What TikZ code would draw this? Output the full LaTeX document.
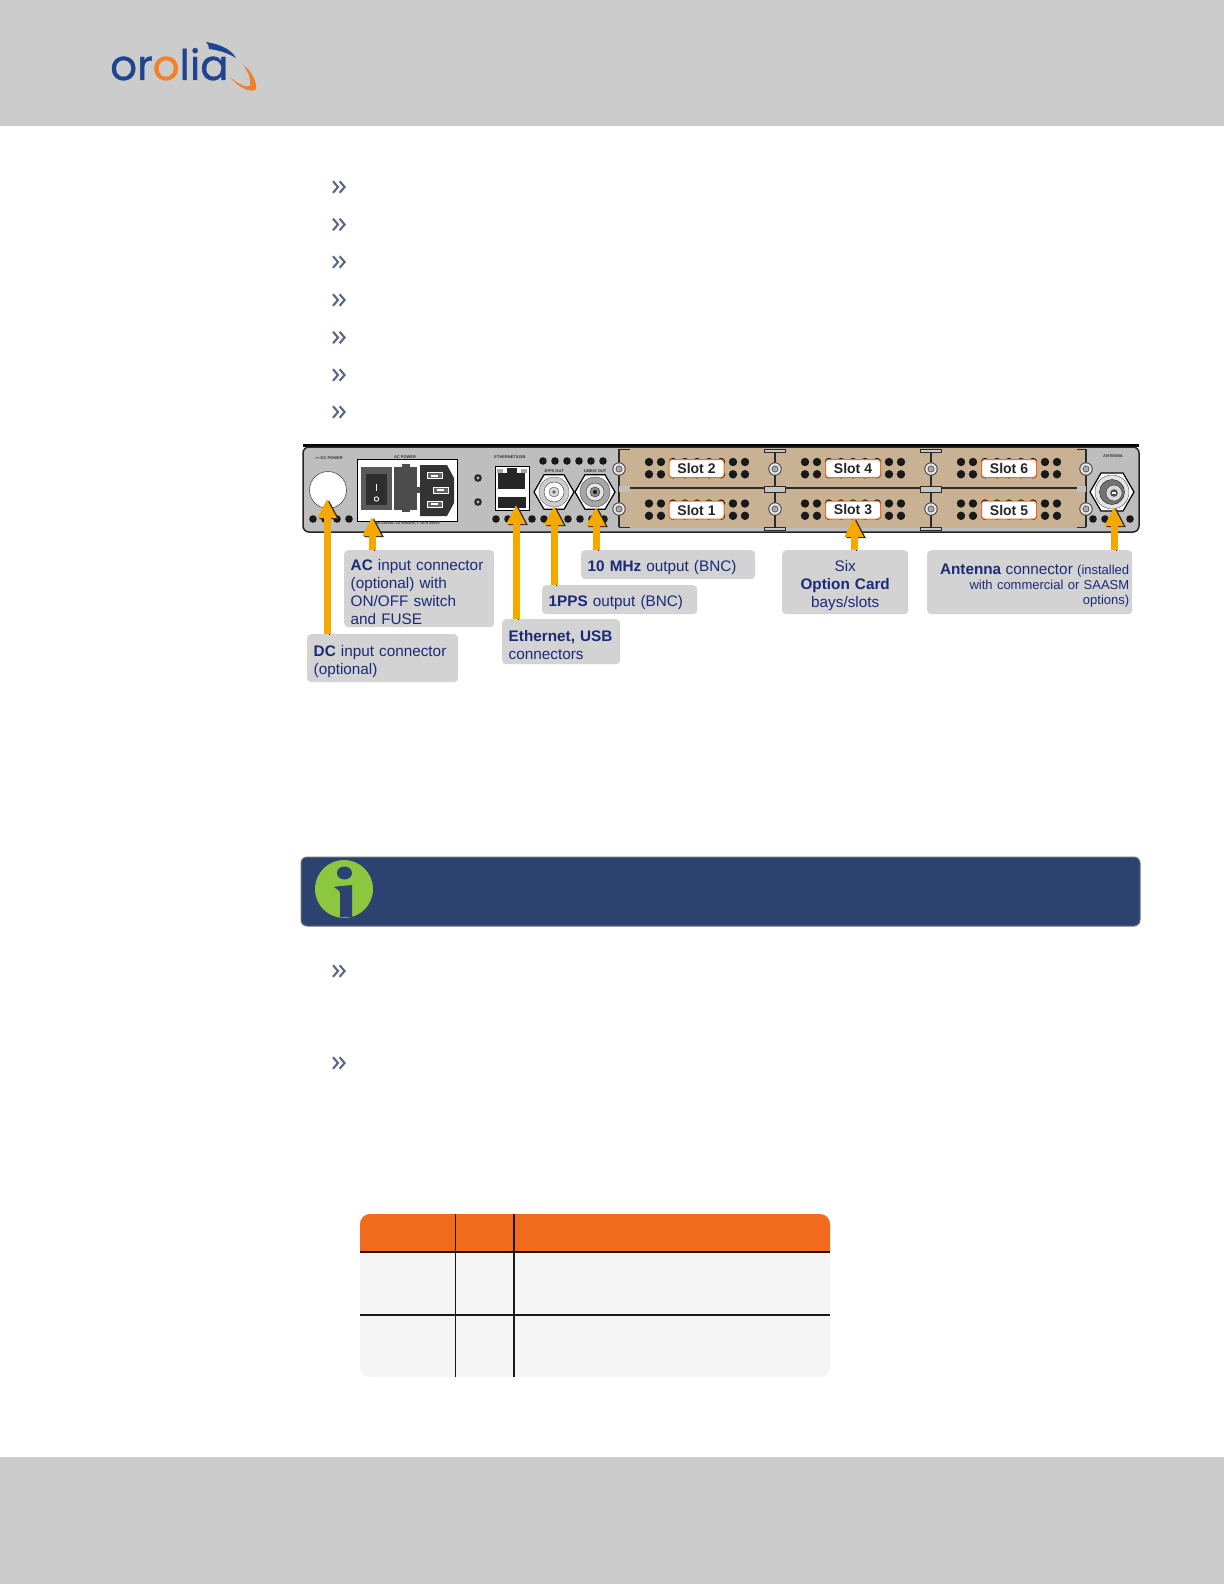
\documentclass[tikz,border=0pt]{standalone}
\usepackage{fontspec}
\setmainfont{Liberation Sans}
\newfontfamily\logofont[FakeBold=0.9]{Poppins}
\usetikzlibrary{arrows.meta}
\definecolor{bandgrey}{HTML}{CCCCCC}
\definecolor{logoblue}{HTML}{1F4590}
\definecolor{logoorange}{HTML}{F0802A}
\definecolor{chevcol}{HTML}{5C6685}
\definecolor{panelgrey}{HTML}{BEBEBE}
\definecolor{cardtan}{HTML}{C9B294}
\definecolor{boxgrey}{HTML}{D3D3D3}
\definecolor{navytext}{HTML}{1B2A78}
\definecolor{arroworange}{HTML}{F5A800}
\definecolor{notenavy}{HTML}{2C4270}
\definecolor{notegreen}{HTML}{8DC63F}
\definecolor{tableorange}{HTML}{F26A1B}
\definecolor{tablefill}{HTML}{F5F5F5}
\definecolor{darkline}{HTML}{2B2B2B}
\tikzset{
  callout/.style={fill=boxgrey,rounded corners=4pt,anchor=north west,inner xsep=6.5pt,inner ysep=0pt,
    text=navytext,font=\fontsize{15.3}{18}\selectfont,align=left},
  yellowarrow/.style={line width=7pt,draw=arroworange,
    -{Triangle[width=18pt,length=19pt]},
    preaction={draw=black!85,transform canvas={xshift=2pt,yshift=-1pt}}},
  slotlabel/.style={fill=white,draw=tableorange,line width=1pt,rounded corners=3pt,minimum width=55pt,minimum height=18pt,
    inner sep=0pt,font=\bfseries\fontsize{14}{16}\selectfont,text=black!85},
  tiny/.style={font=\bfseries\fontsize{4}{4}\selectfont,text=black!80,inner sep=0pt},
  holes/.style={fill=black!90},
}
\newcommand{\upstrut}{\rule{0pt}{17.5pt}}
\newcommand{\chevmark}[2]{%
  \draw[chevcol,line width=2.1pt,miter limit=3] (#1-6,#2-5.8) -- (#1-1,#2) -- (#1-6,#2+5.8);
  \draw[chevcol,line width=2.1pt,miter limit=3] (#1+0.6,#2-5.8) -- (#1+5.6,#2) -- (#1+0.6,#2+5.8);}
\newcommand{\screwmark}[2]{%
  \fill[black!75] (#1,#2) circle (6.7);
  \fill[black!10] (#1,#2) circle (5.7);
  \draw[black!70,line width=.8pt] (#1,#2) circle (3);
  \fill[black!35] (#1,#2) circle (2);}
\newcommand{\holegrid}[2]{%
  \foreach \k in {0,...,8} {
    \fill[holes] (#1+12*\k,#2) circle (4.2);
    \fill[holes] (#1+12*\k,#2+12.3) circle (4.2);}}
\newcommand{\hexnut}[3]{%
  \draw[black,line width=1.2pt,fill=white] (#1+#3,#2) -- (#1+.5*#3,#2+.866*#3) -- (#1-.5*#3,#2+.866*#3)
    -- (#1-#3,#2) -- (#1-.5*#3,#2-.866*#3) -- (#1+.5*#3,#2-.866*#3) -- cycle;}
\begin{document}
\begin{tikzpicture}[x=1pt,y=-1pt]
\useasboundingbox (0,0) rectangle (1224,1584);
\fill[white] (0,0) rectangle (1224,1584);
% bands
\fill[bandgrey] (0,0) rectangle (1224,126);
\fill[bandgrey] (0,1457) rectangle (1224,1584);
% logo
\node[anchor=base west,inner sep=0pt,font=\logofont\fontsize{42}{42}\selectfont,text=logoblue] (logo) at (110,80)
  {or\textcolor{logoorange}{o}lia};
\fill[logoblue] (206,42) .. controls (220,44) and (232,50) .. (236,58) .. controls (228,53) and (218,50) .. (209,49) .. controls (209,46) and (208,44) .. (206,42) -- cycle;
\fill[logoorange] (230,77) .. controls (238,84) and (246,88) .. (250,86) .. controls (251,78) and (248,71) .. (243,65)
  .. controls (251,70) and (257,81) .. (256,89) .. controls (254,93) and (240,90) .. (230,77) -- cycle;
% bullets
\foreach \yy in {187,224.5,262,300,337.5,375,412,971,1063} {\chevmark{339}{\yy}}
% chassis
\draw[black,line width=3pt] (303,445.5) -- (1139,445.5);
\draw[black!85,line width=1.5pt,fill=panelgrey,rounded corners=6pt] (303,447) -- (1139,447) -- (1139,532) -- (303,532) -- cycle;
% cards
\fill[cardtan] (618,448) rectangle (1086,528);
\draw[darkline,line width=1.2pt] (618,488) -- (1086,488);
\foreach \xx in {619,775,931,1086} {\draw[darkline,line width=1.2pt] (\xx,449) -- (\xx,527);}
\foreach \xx in {775,931} {
  \draw[darkline,line width=.5pt,fill=black!22] (\xx-10.5,449) rectangle (\xx+10.5,452);
  \draw[darkline,line width=.5pt,fill=black!22] (\xx-10.5,486) rectangle (\xx+10.5,492);
  \draw[darkline,line width=.5pt,fill=black!22] (\xx-10.5,527) rectangle (\xx+10.5,530);}
\fill[panelgrey] (619,486) rectangle (630,492);
\fill[panelgrey] (1077,486) rectangle (1086,492);
\draw[darkline,line width=1pt] (619,449.5) -- (630,449.5) (619,527) -- (630,527) (1077,449.5) -- (1086,449.5) (1077,527) -- (1086,527);
\holegrid{649}{462}
\holegrid{805}{462}
\holegrid{961}{462}
\holegrid{649}{503.5}
\holegrid{805}{503.5}
\holegrid{961}{503.5}
\foreach \xx in {619,775,931,1086} {\screwmark{\xx}{469}\screwmark{\xx}{509}}
\node[slotlabel] (slot2) at (696.5,468.5) {Slot 2};
\node[slotlabel] (slot1) at (696.5,510) {Slot 1};
\node[slotlabel] (slot4) at (853,468.5) {Slot 4};
\node[slotlabel] (slot3) at (853,510) {Slot 3};
\node[slotlabel] (slot6) at (1009,468.5) {Slot 6};
\node[slotlabel] (slot5) at (1009,510) {Slot 5};
% panel holes
\foreach \xx in {313,325,337,349} {\fill[holes] (\xx,519) circle (3.8);}
\foreach \xx in {496,508,520,532,544,556,568,580,592,604} {\fill[holes] (\xx,519) circle (3.8);}
\foreach \xx in {543,555,567,579,591,603} {\fill[holes] (\xx,461) circle (3.8);}
\foreach \xx in {1093,1105,1117,1130} {\fill[holes] (\xx,519) circle (3.8);}
% DC
\node[tiny] (dcpow) at (329,458) {▪▪▪ DC POWER};
\fill[white] (328,490) circle (18.5);
\draw[black!70,line width=.6pt] (328,490) circle (18.5);
% AC
\draw[black,line width=1pt,fill=white] (357,459) rectangle (457,521);
\node[tiny] (acpow) at (405,457) {AC POWER};
\node[tiny,font=\bfseries\fontsize{3.6}{4}\selectfont] (acrate) at (407,523.5) {100-240VAC 1A 50/60Hz, F 1A H 250V3};
\fill[black!65] (361,467) rectangle (392,510);
\fill[black!82] (366,474) rectangle (387,505);
\draw[white,line width=1.2pt] (376.5,484) -- (376.5,491);
\draw[white,line width=.9pt] (376.5,499) circle (2.2);
\fill[black!70] (394,467) rectangle (417,510);
\fill[black!70] (402,464) rectangle (410,512);
\fill[black!70] (417,487) rectangle (420,493);
\fill[black!80] (420,465) -- (447,465) -- (454,478) -- (454,503) -- (447,516) -- (420,516) -- cycle;
\foreach \yy/\xa in {475.5/427,490/433,504/427} {
  \draw[white,line width=.5pt,fill=black!60] (\xa,\yy-3) rectangle (\xa+15,\yy+3);
  \fill[white] (\xa+4,\yy-1) rectangle (\xa+11,\yy+1);}
% LEDs
\foreach \yy in {478,502} {\fill[black!85] (478,\yy) circle (3.8); \fill[black!25] (478,\yy) circle (1.6);}
% Ethernet
\node[tiny] (ethlbl) at (510,457) {ETHERNET/USB};
\draw[black,line width=1pt,fill=white] (495,466) rectangle (529,510);
\fill[black!85] (498,473) rectangle (525,489);
\fill[black!85] (507,468) rectangle (517,473);
\fill[black!35] (497,468.5) rectangle (503,472.5);
\fill[black!35] (521,468.5) rectangle (527,472.5);
\fill[black!85] (498,497) rectangle (526,508);
% BNC
\node[tiny] (ppslbl) at (554,471) {1PPS OUT};
\node[tiny] (tenlbl) at (595,471) {10MHZ OUT};
\hexnut{554}{492}{20}
\draw[black!60,fill=black!20] (554,492) circle (15);
\draw[black!80,fill=white] (554,492) circle (10);
\draw[black!70,fill=black!15] (554,492) circle (5);
\fill[black!60] (554,492) circle (1.8);
\hexnut{595}{492}{20}
\draw[black!70,fill=black!35] (595,492) circle (15);
\draw[black!80,fill=black!10] (595,492) circle (9);
\draw[black!80,fill=black!45] (595,492) circle (5);
\fill[black!90] (595,492) circle (2);
% Antenna
\node[tiny] (antlbl) at (1113,456) {ANTENNA};
\hexnut{1112}{492}{22}
\draw[black!70,fill=black!10] (1112,492) circle (17);
\draw[black!90,fill=black!55] (1112,492) circle (12.5);
\draw[black!80,fill=black!15] (1114,493) circle (8);
\fill[black!70] (1114,493) circle (3.8);
\fill[white] (1112,492) rectangle (1116,494);
% callouts
\node[callout,minimum width=150pt,text width=137pt,minimum height=77pt] (acbox) at (344,550)
  {\upstrut\textbf{AC} input connector\\(optional) with\\ON/OFF switch\\and FUSE};
\node[callout,minimum width=151pt,text width=138pt,minimum height=48pt] (dcbox) at (307,634)
  {\upstrut\textbf{DC} input connector\\(optional)};
\node[callout,minimum width=118pt,text width=105pt,minimum height=45pt] (ethbox) at (502,619)
  {\upstrut\mbox{\textbf{Ethernet, USB}}\\connectors};
\node[callout,minimum width=155pt,text width=142pt,minimum height=29pt] (ppsbox) at (542,585)
  {\upstrut\textbf{1PPS} output (BNC)};
\node[callout,minimum width=174pt,text width=161pt,minimum height=29pt] (tenbox) at (581,550)
  {\upstrut\textbf{10 MHz} output (BNC)};
\node[callout,minimum width=126pt,text width=113pt,minimum height=64pt,align=center] (optbox) at (782,550)
  {\upstrut Six\\\textbf{Option Card}\\bays/slots};
\node[callout,minimum width=205pt,text width=199pt,minimum height=64pt,align=right,inner xsep=3pt,font=\fontsize{13}{15}\selectfont] (antbox) at (927,550)
  {\upstrut{\fontsize{15.3}{15}\selectfont\textbf{Antenna} connector} (installed\\with commercial or SAASM\\options)};
% arrows
\coordinate (dctip) at (327,499);
\coordinate (actip) at (372,517);
\coordinate (ethtip) at (516,505);
\coordinate (ppstip) at (554,506);
\coordinate (tentip) at (596,507);
\coordinate (opttip) at (854,518);
\coordinate (anttip) at (1114,507);
\draw[yellowarrow] (dctip |- dcbox.north) -- (dctip);
\draw[yellowarrow] (actip |- acbox.north) -- (actip);
\draw[yellowarrow] (ethtip |- ethbox.north) -- (ethtip);
\draw[yellowarrow] (ppstip |- ppsbox.north) -- (ppstip);
\draw[yellowarrow] (tentip |- tenbox.north) -- (tentip);
\draw[yellowarrow] (opttip |- optbox.north) -- (opttip);
\draw[yellowarrow] (anttip |- antbox.north) -- (anttip);
% note
\draw[black!55,line width=1pt,fill=notenavy,rounded corners=6pt] (301,857) rectangle (1140,926);
\fill[notegreen] (344,889) circle (29);
\fill[notenavy] (344.5,873) ellipse (7.5 and 6.5);
\fill[notenavy] (334,887) .. controls (338,886) and (343,886) .. (352,885) -- (352,917.5) .. controls (350,917) and (345,917) .. (340,917.5) -- (340,893) .. controls (340,891) and (337,889) .. (334,887) -- cycle;
% table
\fill[tablefill] (360,1252) [rounded corners=10pt] -- (360,1377) -- (830,1377) [sharp corners] -- (830,1252) -- cycle;
\fill[tableorange] (360,1252) [rounded corners=10pt] -- (360,1214) -- (830,1214) [sharp corners] -- (830,1252) -- cycle;
\draw[black!85!tableorange,line width=1.7pt] (360,1252) -- (830,1252);
\draw[black!90,line width=1.5pt] (360,1315) -- (830,1315);
\draw[black!90,line width=1pt] (455.5,1214) -- (455.5,1377);
\draw[black!90,line width=1.7pt] (514,1214) -- (514,1377);
\end{tikzpicture}
\end{document}
